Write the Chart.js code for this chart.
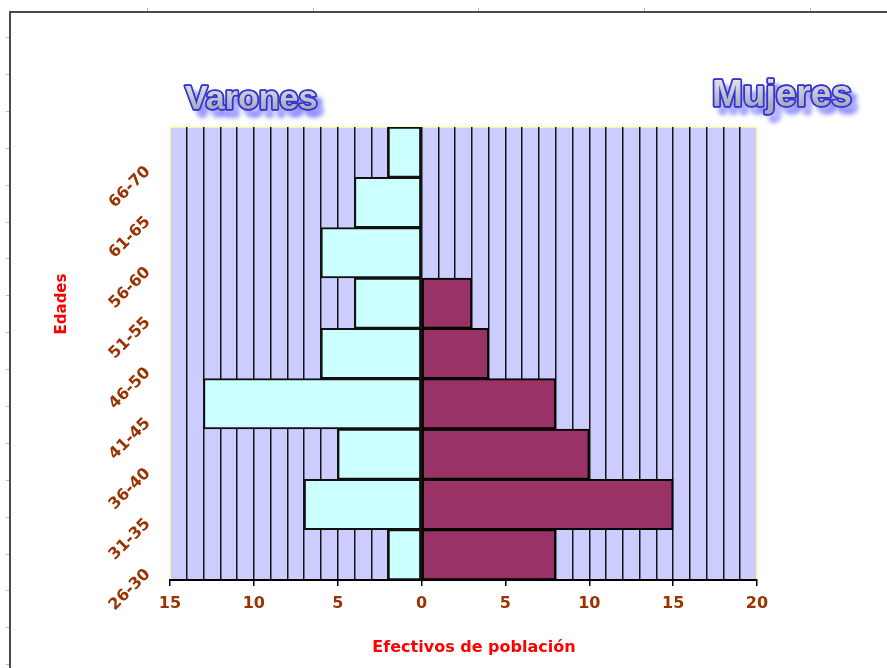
<!DOCTYPE html>
<html>
<head>
<meta charset="utf-8">
<title>Pirámide de población</title>
<script src="https://cdn.jsdelivr.net/npm/chart.js@4/dist/chart.umd.min.js"></script>
<style>
  html, body { margin: 0; padding: 0; background: #fff; }
  canvas { display: block; }
</style>
</head>
<body>
<canvas id="chart" width="887" height="668"></canvas>
<script>
// datos
const edades = ['26-30', '31-35', '36-40', '41-45', '46-50', '51-55', '56-60', '61-65', '66-70'];
const varones = [2, 7, 5, 13, 6, 4, 6, 4, 2];
const mujeres = [8, 15, 10, 8, 4, 3, 0, 0, 0];
const xMin = -15;
const xMax = 20;

const brown = '#993300';
const tickFont = { family: '"DejaVu Sans", Verdana, sans-serif', size: 16, weight: 'bold' };

// big blue titles with a blurred shadow
function fancyText(ctx, text, x, y, size) {
    ctx.save();
    ctx.font = 'bold ' + size + 'px "Liberation Sans", Arial, sans-serif';
    ctx.lineJoin = 'round';
    ctx.textBaseline = 'alphabetic';
    ctx.shadowColor = 'rgba(110,110,255,0.85)';
    ctx.shadowOffsetX = 6;
    ctx.shadowOffsetY = 7;
    ctx.shadowBlur = 4;
    ctx.lineWidth = 3;
    ctx.strokeStyle = '#5a5ae0';
    ctx.strokeText(text, x, y);
    ctx.restore();

    ctx.save();
    ctx.font = 'bold ' + size + 'px "Liberation Sans", Arial, sans-serif';
    ctx.lineJoin = 'round';
    const g = ctx.createLinearGradient(0, y - size * 0.75, 0, y);
    g.addColorStop(0, '#e4e4ee');
    g.addColorStop(1, '#a9a9bd');
    ctx.lineWidth = 3.5;
    ctx.strokeStyle = '#3636cc';
    ctx.strokeText(text, x, y);
    ctx.fillStyle = g;
    ctx.fillText(text, x, y);
    ctx.restore();
}

const deco = {
    id: 'deco',
    beforeDraw(chart) {
        const { ctx, chartArea: a } = chart;
        ctx.save();
        ctx.fillStyle = '#fff';
        ctx.fillRect(0, 0, chart.width, chart.height);

        // sheet frame
        ctx.strokeStyle = '#4a4a4a';
        ctx.lineWidth = 2;
        ctx.beginPath();
        ctx.moveTo(10, chart.height);
        ctx.lineTo(10, 12);
        ctx.lineTo(chart.width, 12);
        ctx.stroke();
        ctx.strokeStyle = '#b8b8b8';
        ctx.lineWidth = 1;
        for (let y = 37; y < chart.height; y += 36.9) {
            ctx.beginPath();
            ctx.moveTo(6, Math.round(y) + 0.5);
            ctx.lineTo(9, Math.round(y) + 0.5);
            ctx.stroke();
        }
        for (let x = 147; x < chart.width; x += 165.7) {
            ctx.beginPath();
            ctx.moveTo(Math.round(x) + 0.5, 8);
            ctx.lineTo(Math.round(x) + 0.5, 11);
            ctx.stroke();
        }

        // plot area
        ctx.fillStyle = '#CCCCFF';
        ctx.fillRect(a.left, a.top, a.width, a.height);
        ctx.strokeStyle = '#FFFFB0';
        ctx.lineWidth = 1.5;
        ctx.strokeRect(a.left, a.top, a.width, a.height);
        ctx.restore();
    },
    afterDraw(chart) {
        const { ctx } = chart;
        fancyText(ctx, 'Varones', 185, 109, 34);
        fancyText(ctx, 'Mujeres', 712, 106, 37);

        ctx.save();
        ctx.fillStyle = '#FF0000';
        ctx.font = 'bold 16px "DejaVu Sans", Verdana, sans-serif';
        ctx.textAlign = 'center';
        ctx.textBaseline = 'middle';
        ctx.fillText('Efectivos de población', 474, 648);
        ctx.font = 'bold 15px "DejaVu Sans", Verdana, sans-serif';
        ctx.translate(62, 304);
        ctx.rotate(-Math.PI / 2);
        ctx.fillText('Edades', 0, 0);
        ctx.restore();
    }
};

new Chart(document.getElementById('chart'), {
    type: 'bar',
    data: {
        labels: edades,
        datasets: [
            {
                label: 'Varones',
                data: varones.map(v => -v),
                backgroundColor: '#CCFFFF',
                borderColor: '#111',
                borderWidth: 2,
                borderSkipped: false
            },
            {
                label: 'Mujeres',
                data: mujeres,
                backgroundColor: '#993366',
                borderColor: '#000',
                borderWidth: 2,
                borderSkipped: false
            }
        ]
    },
    options: {
        indexAxis: 'y',
        responsive: false,
        animation: false,
        barPercentage: 1,
        categoryPercentage: 1,
        layout: { padding: { left: 100, right: 130, top: 127, bottom: 30 } },
        plugins: {
            legend: { display: false },
            tooltip: {
                callbacks: {
                    label: c => c.dataset.label + ': ' + Math.abs(c.raw)
                }
            }
        },
        scales: {
            x: {
                stacked: true,
                min: xMin,
                max: xMax,
                afterFit: s => { s.height = 58; },
                grid: {
                    color: c => (c.tick && (c.tick.value === xMin || c.tick.value === xMax)) ? 'rgba(0,0,0,0)' : '#141414',
                    lineWidth: 1.5,
                    tickLength: 6,
                    tickColor: c => (c.tick && c.tick.value % 5 === 0) ? '#000' : 'rgba(0,0,0,0)',
                    tickWidth: 1.5
                },
                border: { color: '#000', width: 2 },
                ticks: {
                    stepSize: 1,
                    autoSkip: false,
                    maxRotation: 0,
                    padding: 8,
                    color: brown,
                    font: tickFont,
                    callback: v => v % 5 === 0 ? String(Math.abs(v)) : ''
                }
            },
            y: {
                stacked: true,
                reverse: true,
                afterFit: s => { s.width = 70; },
                grid: { display: false, drawTicks: false },
                border: { display: false },
                ticks: {
                    minRotation: 45,
                    maxRotation: 45,
                    padding: 22,
                    labelOffset: 17,
                    color: brown,
                    font: tickFont
                }
            }
        }
    },
    plugins: [deco]
});
</script>
</body>
</html>
